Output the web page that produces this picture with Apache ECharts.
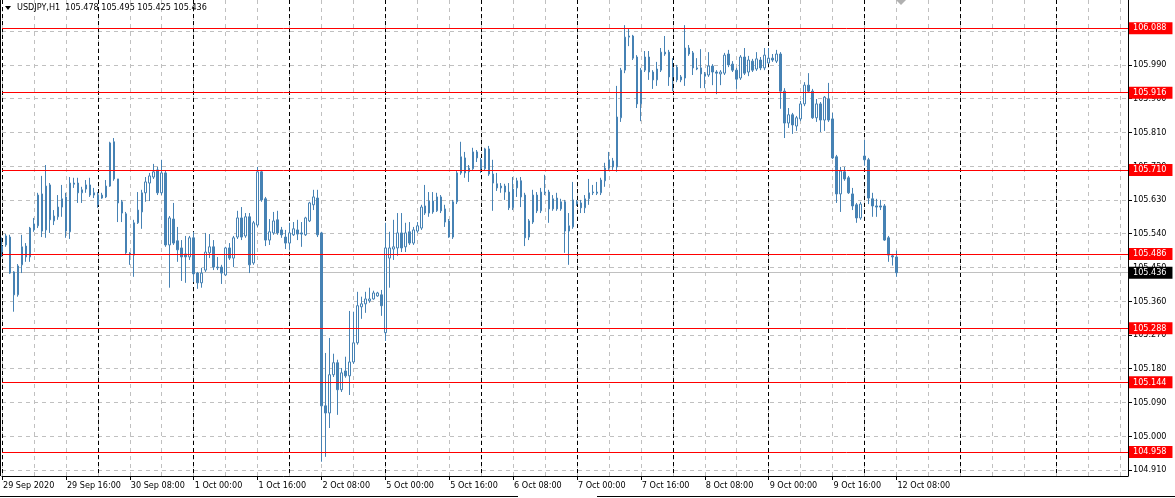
<!DOCTYPE html>
<html><head><meta charset="utf-8">
<script src="https://cdn.jsdelivr.net/npm/echarts/dist/echarts.min.js"></script>
<style>html,body{margin:0;padding:0;background:#fff}#c{width:1175px;height:498px}</style>
</head><body><div id="c"></div>
<script>
const symbolName = 'USDJPY,H1';
const tradingDays = ['29 Sep','30 Sep','1 Oct','2 Oct','5 Oct','6 Oct','7 Oct','8 Oct','9 Oct','12 Oct'];
const tickLabels = ['29 Sep 2020','29 Sep 16:00','30 Sep 08:00','1 Oct 00:00','1 Oct 16:00','2 Oct 08:00','5 Oct 00:00','5 Oct 16:00','6 Oct 08:00','7 Oct 00:00','7 Oct 16:00','8 Oct 08:00','9 Oct 00:00','9 Oct 16:00','12 Oct 08:00'];
const priceTicks = [104.910,105.000,105.090,105.180,105.270,105.360,105.450,105.540,105.630,105.720,105.810,105.900,105.990,106.080];
const levels = [106.088,105.916,105.710,105.486,105.288,105.144,104.958];
const bidPrice = 105.436;

const open = [105.507,105.510,105.531,105.438,105.377,105.457,105.507,105.478,105.550,105.561,105.646,105.550,105.670,105.574,105.585,105.611,105.638,105.545,105.675,105.675,105.649,105.659,105.670,105.649,105.617,105.635,105.638,105.667,105.785,105.686,105.625,105.593,105.483,105.483,105.569,105.598,105.649,105.675,105.691,105.710,105.649,105.702,105.510,105.579,105.521,105.502,105.486,105.478,105.529,105.435,105.409,105.443,105.489,105.505,105.451,105.451,105.430,105.502,105.475,105.531,105.582,105.534,105.585,105.462,105.563,105.705,105.633,105.523,105.542,105.577,105.550,105.531,105.515,105.537,105.550,105.542,105.537,105.574,105.617,105.635,105.542,105.081,105.062,105.164,105.196,105.124,105.174,105.161,105.198,105.249,105.345,105.353,105.361,105.366,105.374,105.377,105.276,105.475,105.499,105.502,105.542,105.505,105.545,105.515,105.547,105.555,105.614,105.595,105.627,105.601,105.638,105.606,105.574,105.531,105.625,105.702,105.742,105.705,105.713,105.758,105.737,105.713,105.766,105.699,105.673,105.662,105.667,105.651,105.609,105.662,105.681,105.643,105.531,105.571,105.643,105.601,105.651,105.651,105.606,105.635,105.606,105.625,105.547,105.558,105.625,105.622,105.609,105.633,105.651,105.651,105.649,105.681,105.715,105.734,105.718,105.849,105.976,106.064,106.067,106.011,105.886,105.976,106.011,105.971,105.950,105.976,106.024,106.024,105.958,105.984,105.950,105.955,106.035,106.022,105.982,105.982,105.966,105.963,105.987,105.971,105.966,105.968,106.019,105.992,105.976,105.955,106.011,105.971,106.000,105.979,106.003,105.982,105.995,106.008,106.000,106.019,105.920,105.835,105.857,105.827,105.846,105.886,105.936,105.920,105.849,105.886,105.843,105.899,105.846,105.745,105.646,105.705,105.689,105.646,105.617,105.582,105.747,105.737,105.633,105.614,105.614,105.614,105.529,105.481,105.478];
const close = [105.491,105.534,105.435,105.377,105.454,105.505,105.478,105.555,105.566,105.643,105.547,105.667,105.577,105.587,105.611,105.633,105.547,105.675,105.672,105.649,105.657,105.670,105.643,105.643,105.643,105.643,105.667,105.782,105.686,105.622,105.595,105.489,105.489,105.569,105.603,105.649,105.678,105.694,105.705,105.649,105.702,105.510,105.582,105.515,105.497,105.478,105.478,105.529,105.433,105.409,105.435,105.491,105.505,105.451,105.449,105.435,105.502,105.475,105.529,105.582,105.531,105.585,105.457,105.569,105.705,105.630,105.523,105.545,105.574,105.542,105.537,105.515,105.542,105.553,105.539,105.539,105.582,105.622,105.638,105.537,105.081,105.062,105.164,105.196,105.124,105.169,105.161,105.198,105.249,105.348,105.353,105.366,105.366,105.382,105.382,105.348,105.502,105.502,105.505,105.542,105.502,105.542,105.515,105.550,105.561,105.611,105.595,105.627,105.598,105.638,105.601,105.571,105.531,105.625,105.702,105.745,105.702,105.715,105.758,105.742,105.713,105.766,105.699,105.675,105.662,105.667,105.651,105.609,105.659,105.681,105.638,105.529,105.574,105.643,105.601,105.651,105.649,105.606,105.633,105.606,105.625,105.547,105.561,105.630,105.619,105.609,105.633,105.649,105.649,105.648,105.683,105.715,105.737,105.718,105.851,105.976,106.064,106.067,106.008,105.886,105.976,106.011,105.971,105.950,105.979,106.024,106.019,105.958,105.982,105.950,105.958,106.035,106.019,105.982,105.979,105.966,105.960,105.987,105.971,105.968,105.971,106.016,105.990,105.976,105.952,106.011,105.968,106.003,105.976,106.006,105.982,106.016,106.008,106.003,106.019,105.920,105.835,105.857,105.830,105.849,105.886,105.936,105.920,105.849,105.886,105.843,105.904,105.843,105.742,105.646,105.707,105.686,105.649,105.614,105.582,105.619,105.737,105.635,105.614,105.611,105.611,105.523,105.483,105.478,105.436];
const low = [105.478,105.505,105.433,105.332,105.372,105.435,105.465,105.465,105.545,105.555,105.531,105.529,105.542,105.563,105.577,105.585,105.529,105.526,105.662,105.622,105.622,105.649,105.638,105.635,105.609,105.633,105.635,105.665,105.681,105.571,105.571,105.486,105.457,105.425,105.566,105.553,105.625,105.627,105.686,105.643,105.643,105.505,105.396,105.510,105.465,105.414,105.409,105.470,105.411,105.393,105.396,105.438,105.475,105.443,105.443,105.406,105.427,105.470,105.451,105.526,105.523,105.529,105.435,105.457,105.558,105.625,105.507,105.510,105.537,105.537,105.529,105.499,105.497,105.534,105.523,105.505,105.534,105.571,105.603,105.531,104.932,104.945,105.022,105.158,105.057,105.118,105.156,105.110,105.193,105.244,105.313,105.329,105.356,105.364,105.372,105.321,105.254,105.396,105.470,105.481,105.491,105.491,105.510,105.510,105.542,105.550,105.590,105.585,105.593,105.598,105.595,105.558,105.529,105.526,105.619,105.697,105.689,105.678,105.710,105.731,105.702,105.707,105.694,105.601,105.654,105.649,105.630,105.603,105.603,105.638,105.611,105.507,105.523,105.566,105.595,105.595,105.643,105.569,105.601,105.601,105.601,105.489,105.457,105.553,105.614,105.595,105.595,105.617,105.643,105.643,105.643,105.665,105.710,105.710,105.705,105.838,105.968,106.040,106.003,105.875,105.840,105.971,105.950,105.926,105.934,105.971,106.014,105.934,105.920,105.944,105.944,105.934,106.014,105.963,105.976,105.928,105.928,105.958,105.936,105.912,105.936,105.963,105.984,105.971,105.926,105.950,105.963,105.960,105.971,105.974,105.976,105.976,105.992,105.998,105.995,105.873,105.795,105.822,105.806,105.814,105.840,105.880,105.915,105.846,105.838,105.811,105.814,105.838,105.739,105.622,105.598,105.681,105.646,105.603,105.569,105.577,105.721,105.619,105.585,105.585,105.603,105.521,105.465,105.455,105.425];
const high = [105.530,105.539,105.537,105.440,105.459,105.537,105.515,105.558,105.582,105.649,105.694,105.723,105.675,105.603,105.643,105.670,105.649,105.691,105.689,105.689,105.665,105.683,105.689,105.662,105.651,105.649,105.683,105.785,105.795,105.686,105.630,105.598,105.491,105.577,105.651,105.657,105.691,105.702,105.726,105.718,105.737,105.707,105.587,105.622,105.558,105.523,105.534,105.534,105.545,105.438,105.449,105.542,105.539,105.523,105.478,105.457,105.505,105.515,105.534,105.601,105.611,105.595,105.595,105.574,105.718,105.710,105.638,105.579,105.598,105.601,105.558,105.550,105.569,105.571,105.577,105.571,105.585,105.625,105.657,105.657,105.545,105.222,105.262,105.220,105.204,105.182,105.212,105.334,105.332,105.385,105.372,105.385,105.396,105.388,105.385,105.390,105.569,105.545,105.577,105.595,105.595,105.569,105.571,105.558,105.571,105.617,105.670,105.651,105.651,105.649,105.643,105.617,105.579,105.630,105.707,105.785,105.758,105.723,105.769,105.763,105.742,105.769,105.774,105.737,105.702,105.675,105.673,105.675,105.691,105.689,105.691,105.649,105.579,105.657,105.651,105.662,105.697,105.657,105.643,105.649,105.633,105.630,105.595,105.678,105.630,105.630,105.643,105.686,105.670,105.678,105.689,105.729,105.758,105.742,105.934,105.982,106.096,106.088,106.070,106.016,105.982,106.027,106.027,105.976,105.998,106.035,106.067,106.030,106.008,105.990,105.963,106.096,106.043,106.027,106.008,106.032,105.971,106.024,105.992,105.976,105.976,106.022,106.030,106.000,105.982,106.016,106.035,106.014,106.006,106.024,106.011,106.035,106.035,106.019,106.030,106.024,105.928,105.875,105.862,105.854,105.894,105.944,105.968,105.926,105.899,105.891,105.907,105.942,105.862,105.750,105.718,105.718,105.694,105.662,105.622,105.625,105.790,105.742,105.649,105.633,105.630,105.619,105.534,105.486,105.495];

const SLOTS = 283; // bars visible including empty chart-shift area
const categories = [];
tradingDays.forEach(d => { for (let h = 0; h < 24; h++) categories.push(d + ' ' + String(h).padStart(2, '0') + ':00'); });
categories.length = open.length;
for (let k = categories.length; k < SLOTS; k++) categories.push('shift ' + k);
const lastBar = open.length - 1;
const candles = open.map((o, i) => [o, close[i], low[i], high[i]]);
const FONT = "'DejaVu Sans Condensed', 'Liberation Sans', sans-serif";
const FS = 9;
const blue = '#4682b4';
const labelTick = (i) => i % 16 === 0 && i <= lastBar;

const chart = echarts.init(document.getElementById('c'), null, {renderer: 'canvas'});
chart.setOption({
  animation: false,
  backgroundColor: '#ffffff',
  textStyle: {fontFamily: FONT},
  grid: {left: 1, right: 47, top: 0, bottom: 22, containLabel: false},
  xAxis: [{
    type: 'category', data: categories, boundaryGap: false,
    axisLine: {lineStyle: {color: '#000', width: 1}},
    axisTick: {show: true, interval: labelTick, length: 4, lineStyle: {color: '#000'}},
    axisLabel: {interval: labelTick, formatter: (v, i) => tickLabels[i / 16] || '', align: 'left',
      color: '#000', fontSize: FS, fontFamily: FONT, margin: 5, padding: [0, 0, 0, 1]},
    splitLine: {show: true, interval: 7, lineStyle: {color: '#c0c0c0', type: [4, 4], width: 1}}
  }, {
    type: 'category', data: categories, boundaryGap: false, gridIndex: 0, position: 'bottom',
    axisLine: {show: false}, axisTick: {show: false}, axisLabel: {show: false},
    splitLine: {show: true, interval: 23, lineStyle: {color: '#000', type: [4, 3], width: 1}}
  }],
  yAxis: {
    type: 'value', position: 'right', min: 104.894, max: 106.163, scale: true,
    axisLine: {show: true, lineStyle: {color: '#000'}},
    axisTick: {show: true, customValues: priceTicks, length: 4, lineStyle: {color: '#000'}},
    axisLabel: {customValues: priceTicks, formatter: v => v.toFixed(3), color: '#000', fontSize: FS, fontFamily: FONT, margin: 5},
    splitLine: {show: true, lineStyle: {color: '#c0c0c0', type: [4, 4], width: 1}}
  },
  series: [{
    type: 'candlestick', name: symbolName, data: candles, barWidth: 2, z: 3,
    itemStyle: {color: '#ffffff', color0: blue, borderColor: blue, borderColor0: blue, borderWidth: 1}
  }, {
    type: 'line', data: [], silent: true,
    markLine: {
      silent: true, symbol: 'none', z: 1, animation: false, precision: 3,
      lineStyle: {color: '#c0c0c0', type: 'solid', width: 1},
      label: {show: true, position: 'end', distance: 1, formatter: p => Number(p.value).toFixed(3),
        color: '#fff', backgroundColor: '#000', padding: [2, 6, 1, 4], fontSize: FS, fontFamily: FONT},
      data: [{yAxis: bidPrice}]
    }
  }, {
    type: 'line', data: [], silent: true,
    markLine: {
      silent: true, symbol: 'none', z: 10, animation: false, precision: 3,
      lineStyle: {color: '#ff0000', type: 'solid', width: 1},
      label: {show: true, position: 'end', distance: 1, formatter: p => Number(p.value).toFixed(3),
        color: '#fff', backgroundColor: '#ff0000', padding: [2, 6, 1, 4], fontSize: FS, fontFamily: FONT},
      data: levels.map(v => ({yAxis: v}))
    }
  }],
  graphic: [
    {type: 'polygon', shape: {points: [[5, 6], [11, 6], [8, 10]]}, style: {fill: '#000'}, z: 20},
    {type: 'text', left: 17, top: 3, z: 20, style: {
      text: symbolName + '  ' + [open[lastBar], high[lastBar], low[lastBar], close[lastBar]].map(v => v.toFixed(3)).join(' '),
      fill: '#000', font: FS + 'px ' + FONT}},
    {type: 'polygon', shape: {points: [[896, 0], [906, 0], [901, 5]]}, style: {fill: '#b0b0b0'}, z: 20},
    {type: 'line', shape: {x1: 0.5, y1: 0, x2: 0.5, y2: 476}, style: {stroke: '#000', lineWidth: 1}, z: 20},
    {type: 'line', shape: {x1: 0, y1: 496.5, x2: 518, y2: 496.5}, style: {stroke: '#000', lineWidth: 1}, z: 20},
    {type: 'line', shape: {x1: 597, y1: 496.5, x2: 1175, y2: 496.5}, style: {stroke: '#000', lineWidth: 1}, z: 20}
  ]
});
</script></body></html>
